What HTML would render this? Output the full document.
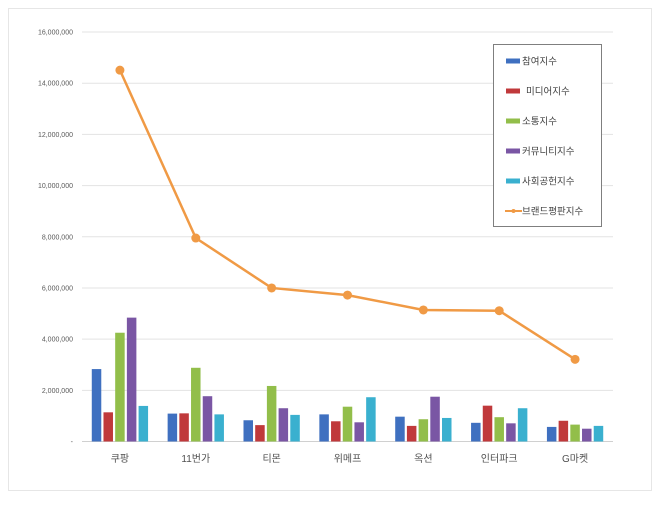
<!DOCTYPE html>
<html><head><meta charset="utf-8"><style>
body{margin:0;background:#fff;}
svg text{font-family:"Liberation Sans","Noto Sans CJK KR",sans-serif;}
</style></head><body>
<svg width="660" height="501" viewBox="0 0 660 501">
<rect x="8.5" y="8.5" width="643" height="482" fill="#fff" stroke="#e6e6e6"/>
<g id="grid"></g><g id="bars"></g><g id="line"></g><g id="ylabels"></g><g id="xlabels"></g>
<g>
<rect x="493.5" y="44.5" width="108" height="182" fill="#fff" stroke="#7f7f7f"/>
<g id="legend"></g>
</g>
</svg>
<script>
const categories=["쿠팡","11번가","티몬","위메프","옥션","인터파크","G마켓"];
const seriesNames=["참여지수","미디어지수","소통지수","커뮤니티지수","사회공헌지수"];
const participation=[2830000,1090000,830000,1060000,970000,730000,570000];
const media=[1140000,1100000,640000,790000,610000,1400000,810000];
const communication=[4250000,2880000,2170000,1360000,870000,950000,660000];
const community=[4840000,1770000,1300000,750000,1750000,710000,500000];
const social=[1390000,1060000,1040000,1730000,920000,1300000,610000];
const reputation=[14510000,7950000,6000000,5720000,5140000,5110000,3210000];
const lineName="브랜드평판지수";
const yTicks=[0,2000000,4000000,6000000,8000000,10000000,12000000,14000000,16000000];
const yTickLabels=["-","2,000,000","4,000,000","6,000,000","8,000,000","10,000,000","12,000,000","14,000,000","16,000,000"];
const colors=["#3f70c0","#c0393b","#92be4a","#7a56a4","#3ab0cf"];
const lineColor="#f09a45";
const NS="http://www.w3.org/2000/svg";
const x0=82,x1=613,y0=441.5,yTop=32,yMax=16000000;
const band=(x1-x0)/categories.length;
const y=v=>y0-(v/yMax)*(y0-yTop);
const cx=i=>x0+band*(i+0.5);
function mk(t,a,p){const e=document.createElementNS(NS,t);for(const k in a)e.setAttribute(k,a[k]);p.appendChild(e);return e;}
const G=id=>document.getElementById(id);
yTicks.forEach((t,i)=>{
 const l=mk('line',{x1:x0,x2:x1,y1:y(t),y2:y(t),stroke:i==0?'#d0d0d0':'#e3e3e3','stroke-width':1},G('grid'));
 
 
 const tx=mk('text',{x:73,y:y(t)+2.5,'text-anchor':'end','font-size':7,fill:'#595959'},G('ylabels'));
 tx.textContent=yTickLabels[i];
 
 
});
const series=[participation,media,communication,community,social];
const pitch=11.7,bw=9.5;
series.forEach((s,k)=>{s.forEach((v,i)=>{
 const bx=cx(i)+(k-2)*pitch-bw/2;
 const r=mk('rect',{x:bx,y:y(v),width:bw,height:y0-y(v),fill:colors[k]},G('bars'));
 
 
});});
const pts=reputation.map((v,i)=>cx(i)+','+y(v)).join(' ');
const pl=mk('polyline',{points:pts,fill:'none',stroke:lineColor,'stroke-width':2.5},G('line'));


reputation.forEach((v,i)=>{
 const c=mk('circle',{cx:cx(i),cy:y(v),r:4.5,fill:lineColor},G('line'));
 
 
});
categories.forEach((c,i)=>{
 const t=mk('text',{x:cx(i),y:462,'text-anchor':'middle','font-size':10,fill:'#505050'},G('xlabels'));
 t.textContent=c;
 
 
});
seriesNames.concat([lineName]).forEach((n,k)=>{
 const ly=61+k*30;
 if(k<5){const r=mk('rect',{x:506,y:ly-2.5,width:14,height:5,fill:colors[k]},G('legend'));
  
  }
 else{const l=mk('line',{x1:505,x2:522,y1:ly,y2:ly,stroke:lineColor,'stroke-width':2},G('legend'));
  
  
  const c=mk('circle',{cx:513.5,cy:ly,r:2,fill:lineColor},G('legend'));
  
  }
 const t=mk('text',{x:k==1?526:522,y:ly+3.5,'font-size':9.5,fill:'#404040'},G('legend'));
 t.textContent=n;
 
 
});
</script>
</body></html>
